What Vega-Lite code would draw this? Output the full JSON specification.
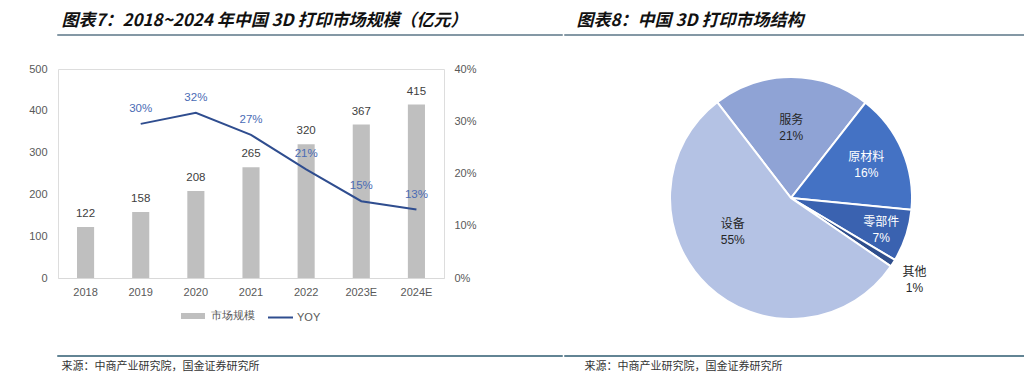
{
  "$schema": "https://vega.github.io/schema/vega-lite/v6.json",
  "padding": {"left": 8, "top": 10, "right": 0, "bottom": 0},
  "background": "white",
  "datasets": {
    "market": [
      {"year": "2018", "size": 122, "yoy": null, "yoyLabel": ""},
      {"year": "2019", "size": 158, "yoy": 0.295, "yoyLabel": "30%"},
      {"year": "2020", "size": 208, "yoy": 0.316, "yoyLabel": "32%"},
      {"year": "2021", "size": 265, "yoy": 0.274, "yoyLabel": "27%"},
      {"year": "2022", "size": 320, "yoy": 0.208, "yoyLabel": "21%"},
      {"year": "2023E", "size": 367, "yoy": 0.147, "yoyLabel": "15%"},
      {"year": "2024E", "size": 415, "yoy": 0.131, "yoyLabel": "13%"}
    ],
    "share": [
      {"name": "服务", "pct": 21, "order": 1, "label": "服务\n21%"},
      {"name": "原材料", "pct": 16, "order": 2, "label": "原材料\n16%"},
      {"name": "零部件", "pct": 7, "order": 3, "label": "零部件\n7%"},
      {"name": "其他", "pct": 1, "order": 4, "label": "其他\n1%"},
      {"name": "设备", "pct": 55, "order": 5, "label": "设备\n55%"}
    ],
    "blank": [{"k": 0}]
  },
  "spacing": 25,
  "vconcat": [
    {
      "spacing": 0,
      "hconcat": [
        {
          "width": 504, "height": 0.01,
          "data": {"name": "blank"},
          "view": {"stroke": "#5b7687", "strokeWidth": 1.5, "fill": null},
          "title": {"text": "图表7：2018~2024 年中国 3D 打印市场规模（亿元）", "anchor": "start", "dx": 4, "offset": 5, "fontSize": 17, "fontWeight": "bold", "fontStyle": "italic", "font": "Noto Sans CJK SC", "color": "#111111"},
          "mark": {"type": "rule", "opacity": 0},
          "encoding": {}
        },
        {
          "width": 491, "height": 0.01,
          "data": {"name": "blank"},
          "view": {"stroke": "#5b7687", "strokeWidth": 1.5, "fill": null},
          "title": {"text": "图表8：中国 3D 打印市场结构", "anchor": "start", "dx": 12, "offset": 5, "fontSize": 17, "fontWeight": "bold", "fontStyle": "italic", "font": "Noto Sans CJK SC", "color": "#111111"},
          "mark": {"type": "rule", "opacity": 0},
          "encoding": {}
        }
      ]
    },
    {
      "spacing": 189,
      "hconcat": [
        {
          "width": 386, "height": 209,
          "data": {"name": "market"},
          "encoding": {
            "x": {"field": "year", "type": "nominal", "sort": null,
              "scale": {"paddingInner": 0.69, "paddingOuter": 0.345},
              "axis": {"title": null, "labelAngle": 0, "ticks": false, "domainColor": "#d9d9d9", "labelPadding": 8, "labelColor": "#595959", "labelFontSize": 11, "labelFont": "Liberation Sans"}}
          },
          "layer": [
            {
              "layer": [
                {
                  "mark": {"type": "bar"},
                  "encoding": {
                    "y": {"field": "size", "type": "quantitative", "scale": {"domain": [0, 500]},
                      "axis": {"title": null, "values": [0, 100, 200, 300, 400, 500], "domain": false, "ticks": false, "grid": false, "labelPadding": 11, "labelColor": "#595959", "labelFontSize": 11, "labelFont": "Liberation Sans", "minExtent": 49}},
                    "fill": {"datum": "市场规模", "scale": {"range": ["#bfbfbf"]},
                      "legend": {"title": null, "orient": "bottom", "symbolType": "M-1,-0.25H1V0.25H-1Z", "symbolSize": 576, "symbolStrokeWidth": 0, "labelOffset": 6, "labelFontSize": 11, "labelColor": "#595959", "offset": 2, "padding": 5}}
                  }
                },
                {
                  "mark": {"type": "text", "dy": -13, "baseline": "middle", "fontSize": 11.5, "font": "Liberation Sans", "color": "#404040"},
                  "encoding": {
                    "y": {"field": "size", "type": "quantitative"},
                    "text": {"field": "size", "type": "quantitative"}
                  }
                }
              ]
            },
            {
              "layer": [
                {
                  "mark": {"type": "line", "strokeWidth": 2},
                  "encoding": {
                    "y": {"field": "yoy", "type": "quantitative", "scale": {"domain": [0, 0.4]},
                      "axis": {"title": null, "orient": "right", "values": [0, 0.1, 0.2, 0.3, 0.4], "format": ".0%", "domain": false, "ticks": false, "grid": false, "labelPadding": 10, "labelColor": "#595959", "labelFontSize": 11, "labelFont": "Liberation Sans"}},
                    "stroke": {"datum": "YOY", "scale": {"range": ["#2f4d8f"]},
                      "legend": {"title": null, "orient": "bottom", "symbolType": "stroke", "symbolSize": 625, "symbolStrokeWidth": 2, "labelOffset": 3, "labelFontSize": 11, "labelColor": "#595959", "offset": 2, "padding": 5}}
                  }
                },
                {
                  "mark": {"type": "text", "dy": -15, "baseline": "middle", "fontSize": 11.5, "font": "Liberation Sans", "color": "#4a6bb5"},
                  "encoding": {
                    "y": {"field": "yoy", "type": "quantitative"},
                    "text": {"field": "yoyLabel"}
                  }
                }
              ],
              "resolve": {"scale": {"y": "shared"}}
            }
          ],
          "resolve": {"scale": {"y": "independent", "fill": "independent", "stroke": "independent"}}
        },
        {
          "width": 240, "height": 258,
          "data": {"name": "share"},
          "encoding": {
            "theta": {"field": "pct", "type": "quantitative", "stack": true, "scale": {"range": [-0.6562, 5.6270]}},
            "order": {"field": "order", "type": "quantitative"}
          },
          "layer": [
            {
              "mark": {"type": "arc", "outerRadius": 121, "stroke": "white", "strokeWidth": 2},
              "encoding": {
                "color": {"field": "name", "type": "nominal", "legend": null,
                  "scale": {"domain": ["服务", "原材料", "零部件", "其他", "设备"], "range": ["#8fa3d5", "#4472c4", "#3a62b0", "#2f4e8c", "#b4c2e4"]}}
              }
            },
            {
              "mark": {"type": "text", "radius": 78, "lineBreak": "\n", "lineHeight": 16, "fontSize": 12, "font": "Liberation Sans, Noto Sans CJK SC", "color": "#262626"},
              "encoding": {
                "detail": {"field": "name"},
                "text": {"condition": {"test": "datum.name === '服务'", "field": "label"}, "value": ""}
              }
            },
            {
              "mark": {"type": "text", "radius": 82, "dy": -9, "lineBreak": "\n", "lineHeight": 16, "fontSize": 12, "font": "Liberation Sans, Noto Sans CJK SC", "color": "#ffffff"},
              "encoding": {
                "detail": {"field": "name"},
                "text": {"condition": {"test": "datum.name === '原材料'", "field": "label"}, "value": ""}
              }
            },
            {
              "mark": {"type": "text", "radius": 95, "dy": -6, "lineBreak": "\n", "lineHeight": 16, "fontSize": 12, "font": "Liberation Sans, Noto Sans CJK SC", "color": "#ffffff"},
              "encoding": {
                "detail": {"field": "name"},
                "text": {"condition": {"test": "datum.name === '零部件'", "field": "label"}, "value": ""}
              }
            },
            {
              "mark": {"type": "text", "radius": 118, "dx": 24, "dy": 10, "lineBreak": "\n", "lineHeight": 16, "fontSize": 12, "font": "Liberation Sans, Noto Sans CJK SC", "color": "#262626"},
              "encoding": {
                "detail": {"field": "name"},
                "text": {"condition": {"test": "datum.name === '其他'", "field": "label"}, "value": ""}
              }
            },
            {
              "mark": {"type": "text", "radius": 60, "dx": -17, "dy": -18, "lineBreak": "\n", "lineHeight": 16, "fontSize": 12, "font": "Liberation Sans, Noto Sans CJK SC", "color": "#262626"},
              "encoding": {
                "detail": {"field": "name"},
                "text": {"condition": {"test": "datum.name === '设备'", "field": "label"}, "value": ""}
              }
            }
          ]
        }
      ]
    },
    {
      "spacing": 0,
      "hconcat": [
        {
          "width": 504, "height": 0.01,
          "data": {"name": "blank"},
          "view": {"stroke": "#2e5b70", "strokeWidth": 1.5, "fill": null},
          "title": {"text": "来源：中商产业研究院，国金证券研究所", "orient": "bottom", "anchor": "start", "dx": 4, "offset": 4, "fontSize": 11, "fontWeight": "normal", "font": "Noto Sans CJK SC", "color": "#333333"},
          "mark": {"type": "rule", "opacity": 0},
          "encoding": {}
        },
        {
          "width": 491, "height": 0.01,
          "data": {"name": "blank"},
          "view": {"stroke": "#2e5b70", "strokeWidth": 1.5, "fill": null},
          "title": {"text": "来源：中商产业研究院，国金证券研究所", "orient": "bottom", "anchor": "start", "dx": 20, "offset": 4, "fontSize": 11, "fontWeight": "normal", "font": "Noto Sans CJK SC", "color": "#333333"},
          "mark": {"type": "rule", "opacity": 0},
          "encoding": {}
        }
      ]
    }
  ],
  "config": {
    "font": "Liberation Sans",
    "legend": {"layout": {"bottom": {"anchor": "middle", "direction": "horizontal", "margin": 2}}}
  }
}
